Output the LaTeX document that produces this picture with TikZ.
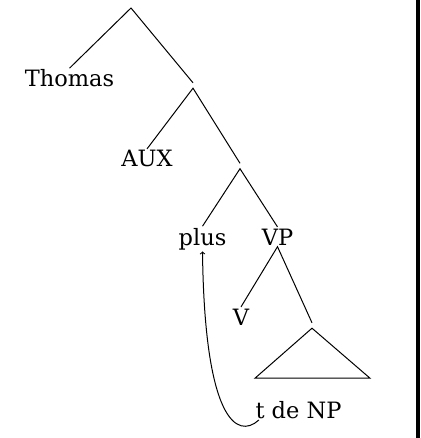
\documentclass[tikz,border=0pt]{standalone}
\usepackage{fontspec}
\setmainfont{DejaVu Serif}
\begin{document}
\begin{tikzpicture}[x=1pt,y=-1pt,>=to,font=\fontsize{22.5}{27}\selectfont,
	every node/.style={inner sep=1.5pt,anchor=base},
	split/.style={inner sep=0pt,minimum width=0pt,minimum height=5pt,anchor=center},
	branch/.style={line width=1pt}]
	\useasboundingbox (0,0) rectangle (420,438);
	\fill (416,0) rectangle (420,438);
	% nodes
	\coordinate (root) at (131,8);
	\node (thomas) at (69.5,87) {Thomas};
	\node[split] (s1) at (193,85.5) {};
	\node (aux) at (147,167) {AUX};
	\node[split] (s2) at (240,166) {};
	\node (plus) at (202.5,245) {plus};
	\node (vp) at (277.5,245) {VP};
	\node (v) at (241,325) {V};
	\node[split] (np) at (312,325.5) {};
	\node (tde) at (298.5,418) {t de NP};
	% branches
	\draw[branch] (thomas.north)--(root)--(s1.north);
	\draw[branch] (aux.north)--(s1.south)--(s2.north);
	\draw[branch] (plus.north)--(s2.south)--(vp.north);
	\draw[branch] (v.north)--(vp.south)--(np.north);
	\draw[branch] (np.south)--++(-57,50)--++(115,0)--cycle;
	% movement
	\draw[->,branch] ([xshift=5pt]tde.south west) .. controls +(-22,20) and +(2,168) .. (plus.south);
\end{tikzpicture}
\end{document}
